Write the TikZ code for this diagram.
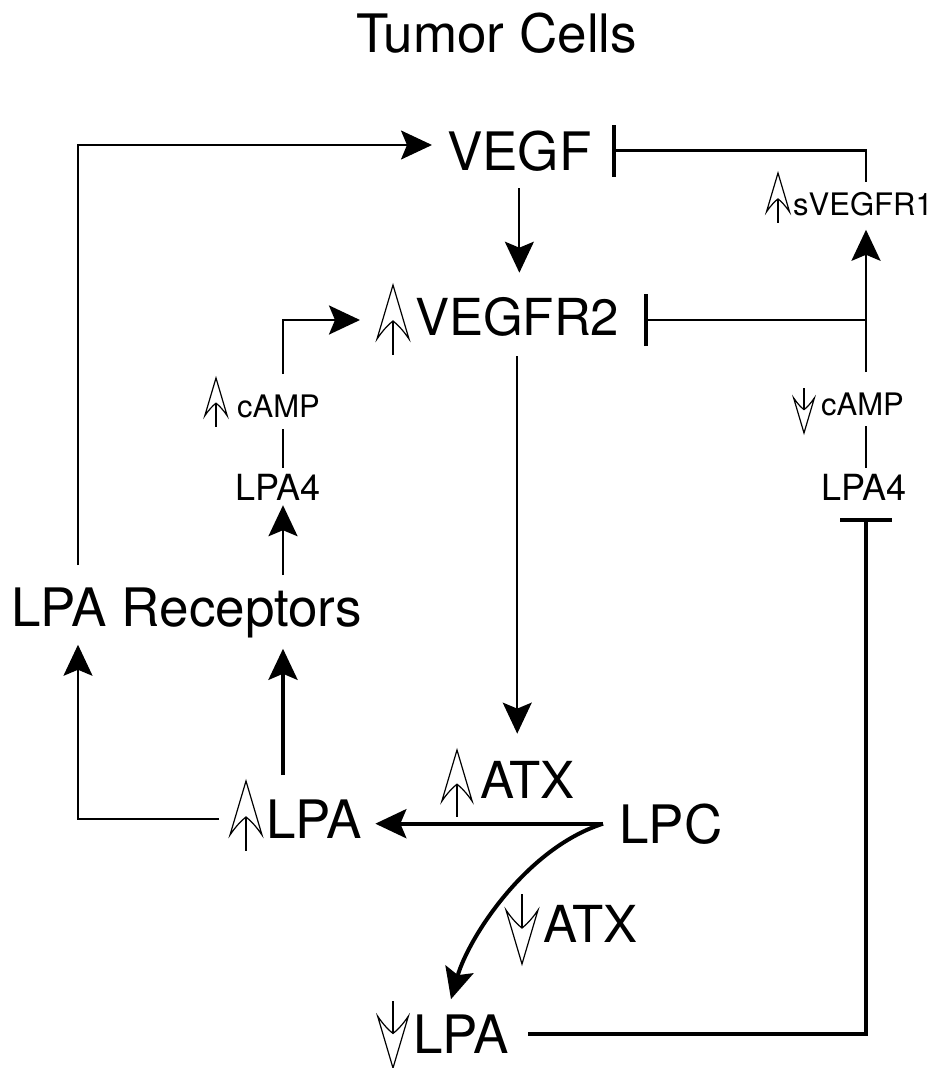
\documentclass[tikz,border=0pt]{standalone}
\usepackage{fontspec}
\setmainfont{TeX Gyre Heros}
\usetikzlibrary{positioning, arrows.meta}

\tikzset{
  upmark/.pic={
    \draw[line width=1.2pt, miter limit=20] (0,0) -- (-16,54)
      .. controls (-10,45) and (-4,39) .. (0,36)
      .. controls (4,39) and (10,45) .. (16,54) -- cycle;
    \draw[line width=2.4pt] (0,36) -- (0,70);
  },
  downmark/.pic={
    \draw[line width=1.2pt, miter limit=20] (0,0) -- (-16,-54)
      .. controls (-10,-45) and (-4,-39) .. (0,-36)
      .. controls (4,-39) and (10,-45) .. (16,-54) -- cycle;
    \draw[line width=2.4pt] (0,-36) -- (0,-70);
  }
}

\begin{document}
\begin{tikzpicture}[x=1pt, y=-1pt,
    lbl/.style={inner sep=0pt, anchor=base west},
    big/.style={lbl, font=\fontsize{53}{62}\selectfont},
    bignarrow/.style={lbl, font=\fontsize{51}{60}\selectfont},
    mid/.style={lbl, font=\fontsize{36}{42}\selectfont},
    small/.style={lbl, font=\fontsize{31}{36}\selectfont},
    lnthin/.style={line width=2pt},
    lnmid/.style={line width=2.7pt},
    lnthick/.style={line width=4pt},
    act/.style={-{Stealth[length=31pt, width=29pt, inset=6pt]}},
    inh/.style={-{Bar[width=52pt, line width=4pt]}}]
    \useasboundingbox (0,0) rectangle (940,1068);
    \coordinate (rj) at (866,320);
    \coordinate (lj) at (283,320);
    \coordinate (lc) at (78,145);

    \node[big] (title) at (356,52) {Tumor Cells};
    \node[big] (vegf) at (447,170) {VEGF};
    \node[bignarrow] (vegfr2) at (415,335) {VEGFR2};
    \node[small] (svegfr1) at (793,215) {sVEGFR1};
    \node[small] (campl) at (237,417) {cAMP};
    \node[mid] (lpa4l) at (235,500) {LPA4};
    \node[small] (campr) at (821,415) {cAMP};
    \node[mid] (lpa4r) at (821,500) {LPA4};
    \node[big] (recep) at (11,626) {LPA Receptors};
    \node[big] (lpaup) at (266,838) {LPA};
    \node[bignarrow] (atxup) at (480,798) {ATX};
    \node[big] (lpc) at (619,843) {LPC};
    \node[bignarrow] (atxdn) at (543,942) {ATX};
    \node[big] (lpadn) at (413,1053) {LPA};

    \pic at ([shift={(-22,-50)}]vegfr2.base west) {upmark};
    \pic[scale=0.72] at ([shift={(-15,-42)}]svegfr1.base west) {upmark};
    \pic[scale=0.7] at ([shift={(-21,-39)}]campl.base west) {upmark};
    \pic[scale=0.65] at ([shift={(-17,18)}]campr.base west) {downmark};
    \pic at ([shift={(-20,-57)}]lpaup.base west) {upmark};
    \pic[scale=0.95] at ([shift={(-23,-48)}]atxup.base west) {upmark};
    \pic at ([shift={(-21,22)}]atxdn.base west) {downmark};
    \pic[scale=0.96] at ([shift={(-20,15)}]lpadn.base west) {downmark};

    \draw[lnthin, act] ([shift={(0,-22)}]lc |- recep.north) -- (lc) -- ([shift={(-15,0)}]vegf.west |- lc);
    \draw[lnthin, act] ([shift={(0,17)}]vegf.south) -- ([shift={(0,-24)}]vegf.south |- vegfr2.north);
    \draw[lnmid, inh] ([shift={(0,-10)}]rj |- svegfr1.north) |- ([shift={(20,0)}]vegf.east);
    \draw[lnmid, act] (rj) -- ([shift={(0,14)}]rj |- svegfr1.south);
    \draw[lnmid, inh] (rj) -- ([shift={(25,0)}]vegfr2.east |- rj);
    \draw[lnmid] ([shift={(0,-6)}]lj |- lpa4l.north) -- ([shift={(0,11)}]lj |- campl.south);
    \draw[lnmid, act] ([shift={(0,-20)}]lj |- campl.north) -- (lj) -- ([shift={(-55,0)}]vegfr2.west |- lj);
    \draw[lnthin, act] ([shift={(0,20)}]vegfr2.south) -- ([shift={(0,-27)}]vegfr2.south |- atxup.north);
    \draw[lnmid, act] ([shift={(0,-12)}]lj |- recep.north) -- ([shift={(0,5)}]lj |- lpa4l.south);
    \draw[lnthick, act] ([shift={(0,-24)}]lj |- lpaup.north) -- ([shift={(0,11)}]lj |- recep.south);
    \draw[lnthin, act] ([shift={(-47,0)}]lpaup.west) -| ([shift={(0,7)}]lc |- recep.south);
    \draw[lnthick, act] ([shift={(-16,0)}]lpc.west) -- ([shift={(13,0)}]lpaup.east |- lpc.west);
    \draw[lnthick, act] ([shift={(-16,0)}]lpc.west) .. controls +(-78,25) and +(17,-60) .. ([shift={(38,-15)}]lpadn.north west);
    \draw[lnthick, inh] ([shift={(19,0)}]lpadn.east) -| ([shift={(0,18)}]rj |- lpa4r.south);
    \draw[lnmid] ([shift={(0,-6)}]rj |- lpa4r.north) -- ([shift={(0,10)}]rj |- campr.south);
    \draw[lnmid] ([shift={(0,-20)}]rj |- campr.north) -- (rj);
\end{tikzpicture}
\end{document}
